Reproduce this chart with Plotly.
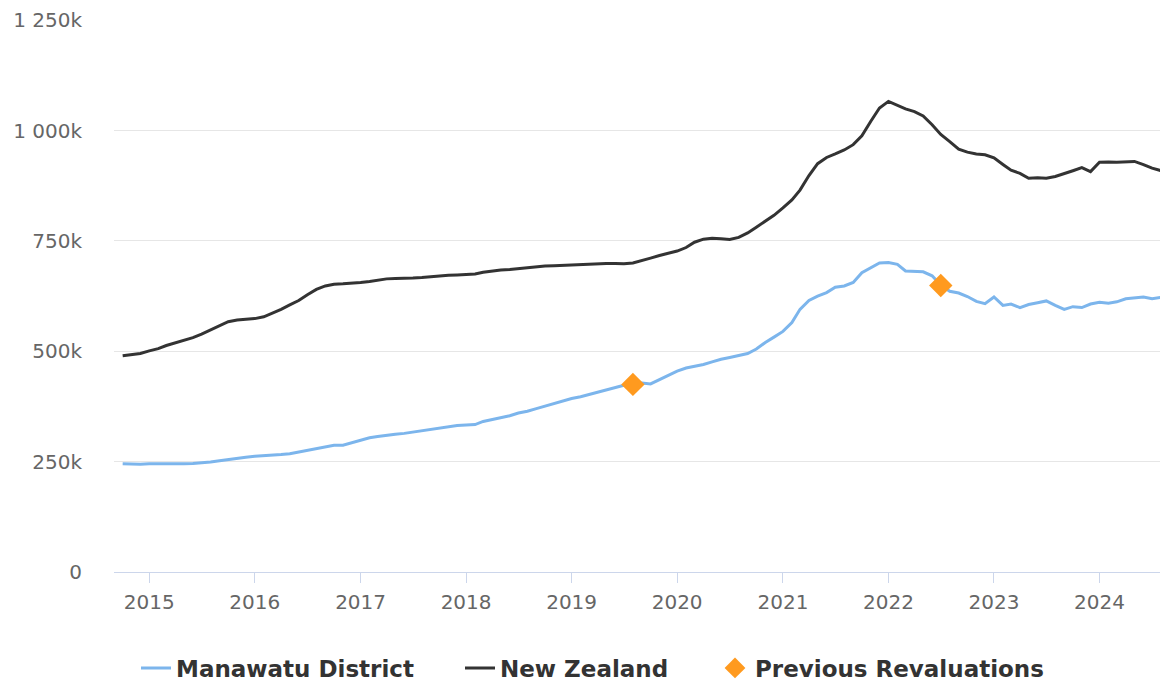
import plotly.graph_objects as go
import pandas as pd

months = pd.date_range("2014-10-01", "2024-08-01", freq="MS")

manawatu = [
    245, 244, 244,
    245, 245, 244, 245, 245, 246, 247, 249, 252, 255, 258, 260,
    262, 263, 264, 266, 268, 272, 276, 280, 284, 287, 287, 293,
    299, 304, 307, 310, 312, 314, 317, 320, 324, 327, 330, 332,
    333, 334, 341, 345, 350, 354, 360, 364, 370, 376, 382, 387,
    393, 397, 402, 407, 413, 418, 423, 427, 428, 426, 436, 446,
    455, 462, 466, 470, 476, 482, 486, 490, 495, 505, 520, 532,
    545, 565, 595, 615, 625, 633, 645, 648, 656, 678, 690, 700,
    701, 697, 682, 681, 680, 671, 650, 636, 632, 624, 613, 608,
    623, 604, 607, 599, 606, 610, 614, 604, 595, 601, 599, 607,
    611, 609, 612, 619, 621, 623, 619, 622,
]

new_zealand = [
    490, 493, 495,
    501, 506, 513, 519, 525, 531, 539, 549, 559, 567, 571, 573,
    574, 578, 586, 595, 605, 615, 628, 640, 648, 652, 653, 654,
    656, 658, 661, 664, 665, 665, 666, 667, 669, 671, 672, 673,
    674, 675, 679, 682, 684, 685, 687, 689, 692, 693, 694, 695,
    696, 697, 698, 699, 699, 699, 698, 700, 705, 711, 717, 722,
    727, 735, 747, 754, 756, 755, 753, 758, 768, 781, 795, 808,
    825, 843, 865, 898, 925, 939, 947, 956, 968, 988, 1021, 1051,
    1066, 1058, 1049, 1043, 1033, 1013, 991, 975, 958, 951, 947, 945,
    938, 923, 910, 903, 892, 893, 892, 896, 902, 909, 916, 907,
    928, 929, 928, 929, 930, 923, 915, 909,
]

reval_dates = ["2019-08-01", "2022-07-01"]
reval_values = [425, 649]

y_tick_vals = [0, 250000, 500000, 750000, 1000000, 1250000]
y_tick_text = ["0", "250k", "500k", "750k", "1 000k", "1 250k"]
x_tick_vals = [f"{y}-01-01" for y in range(2015, 2025)]
x_tick_text = [str(y) for y in range(2015, 2025)]

fig = go.Figure()
fig.add_trace(go.Scatter(
    x=months, y=[v * 1000 for v in manawatu], mode="lines",
    name="Manawatu District", line=dict(color="#7cb5ec", width=3),
    legend="legend",
))
fig.add_trace(go.Scatter(
    x=months, y=[v * 1000 for v in new_zealand], mode="lines",
    name="New Zealand", line=dict(color="#333333", width=3),
    legend="legend2",
))
fig.add_trace(go.Scatter(
    x=pd.to_datetime(reval_dates), y=[v * 1000 for v in reval_values], mode="markers",
    name="Previous Revaluations",
    marker=dict(symbol="diamond", size=18, color="#ff9a1f"),
    legend="legend3",
))

W, H = 1160, 676
legend_font = dict(family="DejaVu Sans", size=23, color="#333333", weight="bold")


def legend_at(px_left):
    return dict(
        orientation="h", xref="container", yref="container",
        x=px_left / W, xanchor="left", y=1 - 660 / H, yanchor="middle",
        font=legend_font, bgcolor="rgba(0,0,0,0)", borderwidth=0,
    )


fig.update_layout(
    width=W, height=H,
    margin=dict(l=106, r=0, t=10, b=112),
    paper_bgcolor="white", plot_bgcolor="white",
    font=dict(family="DejaVu Sans", color="#666666"),
    showlegend=True,
    legend=legend_at(128),
    legend2=legend_at(452),
    legend3=legend_at(707),
    xaxis=dict(
        range=["2014-09-01", "2024-08-25"],
        tickvals=x_tick_vals, ticktext=x_tick_text,
        tickfont=dict(size=20, color="#666666"),
        showgrid=False, showline=True, linecolor="#ccd6eb", linewidth=1,
        ticks="outside", ticklen=10, tickcolor="#ccd6eb",
        zeroline=False, ticklabelstandoff=2,
    ),
    yaxis=dict(
        range=[0, 1250400],
        tickvals=y_tick_vals, ticktext=y_tick_text,
        tickfont=dict(size=20, color="#666666"),
        showgrid=True, gridcolor="#e6e6e6", gridwidth=1,
        zeroline=False, showline=False,
        ticklabelstandoff=31, ticklabeloverflow="allow",
    ),
)

fig.write_html("out.html")
